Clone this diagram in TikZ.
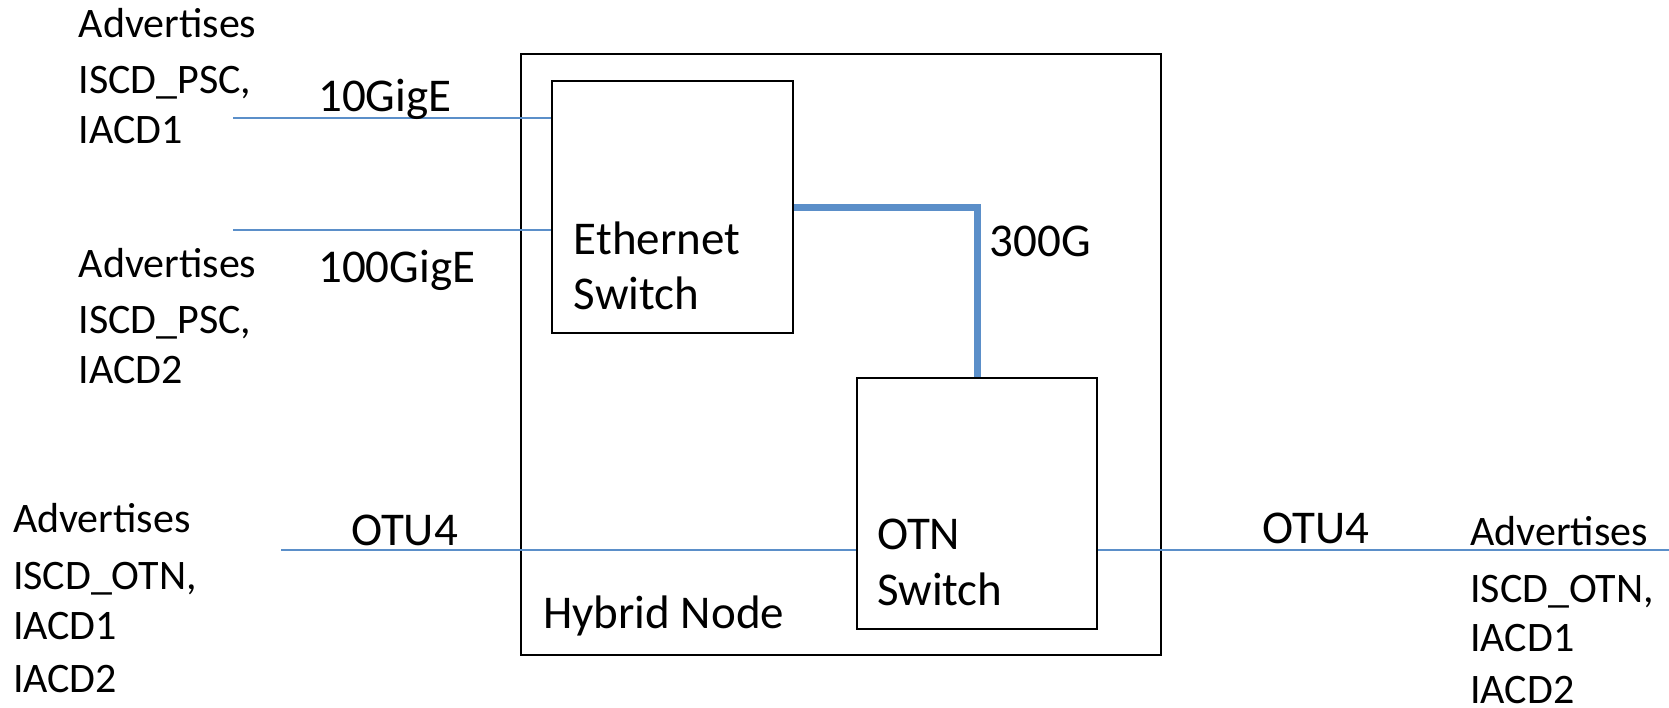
\documentclass[tikz,border=0pt]{standalone}
\usepackage{fontspec}
\setmainfont{Carlito}
\begin{document}
\begin{tikzpicture}[x=1pt,y=-1pt,
  lbl/.style={font=\fontsize{42}{50}\selectfont, inner sep=0pt, anchor=base west},
  biglbl/.style={font=\fontsize{47}{56}\selectfont, inner sep=0pt, anchor=base west},
  boxn/.style={draw=black, line width=2pt, inner sep=0pt},
  link/.style={draw=linkblue, line width=2pt},
  fat/.style={draw=linkblue, line width=7pt}]
\definecolor{linkblue}{HTML}{5B8FC9}
\useasboundingbox (0,0) rectangle (1669,707);
% boxes
\node[boxn, minimum width=640pt, minimum height=601pt] (hyb) at (841,354) {};
\node[boxn, fill=white, minimum width=241pt, minimum height=252pt] (eth) at (672.5,207) {};
\node[boxn, fill=white, minimum width=240.4pt, minimum height=251.6pt] (otn) at (977.2,503.5) {};
% free ends
\coordinate (a1) at (233,117.7);
\coordinate (a2) at (233,229.7);
\coordinate (a3) at (281,550);
\coordinate (a4) at (1669,550);
% connectors
\draw[link] (a1) -- (eth.west |- a1);
\draw[link] (a2) -- (eth.west |- a2);
\draw[link] (a3) -- (otn.west |- a3);
\draw[link] (otn.east |- a4) -- (a4);
\draw[fat, line join=miter] (eth.east) -| (otn.north);
% labels
\node[lbl] (t1a) at (78.5,37.3) {Advertises};
\node[lbl] (t1b) at (78.5,93) {ISCD\_PSC,};
\node[lbl] (t1c) at (78.5,143.3) {IACD1};
\node[biglbl] (g10) at (318,111) {10GigE};
\node[biglbl] (g100) at (318,282) {100GigE};
\node[lbl] (t2a) at (78.5,277) {Advertises};
\node[lbl] (t2b) at (78.5,333) {ISCD\_PSC,};
\node[lbl] (t2c) at (78.5,383) {IACD2};
\node[biglbl] (ethA) at (573.7,254) {Ethernet};
\node[biglbl] (ethB) at (573.7,309) {Switch};
\node[biglbl] (g300) at (989.7,256.7) {300G};
\node[biglbl] (otnA) at (877,549) {OTN};
\node[biglbl] (otnB) at (877,605.7) {Switch};
\node[biglbl] (hybt) at (543,628.3) {Hybrid Node};
\node[biglbl] (otuL) at (351,545.7) {OTU4};
\node[biglbl] (otuR) at (1262,543.3) {OTU4};
\node[lbl] (t3a) at (12.8,532.7) {Advertises};
\node[lbl] (t3b) at (12.8,589.3) {ISCD\_OTN,};
\node[lbl] (t3c) at (12.8,639.3) {IACD1};
\node[lbl] (t3d) at (12.8,692.3) {IACD2};
\node[lbl] (t4a) at (1470,545.7) {Advertises};
\node[lbl] (t4b) at (1470,602.3) {ISCD\_OTN,};
\node[lbl] (t4c) at (1470,651.7) {IACD1};
\node[lbl] (t4d) at (1470,703.3) {IACD2};
\end{tikzpicture}
\end{document}
